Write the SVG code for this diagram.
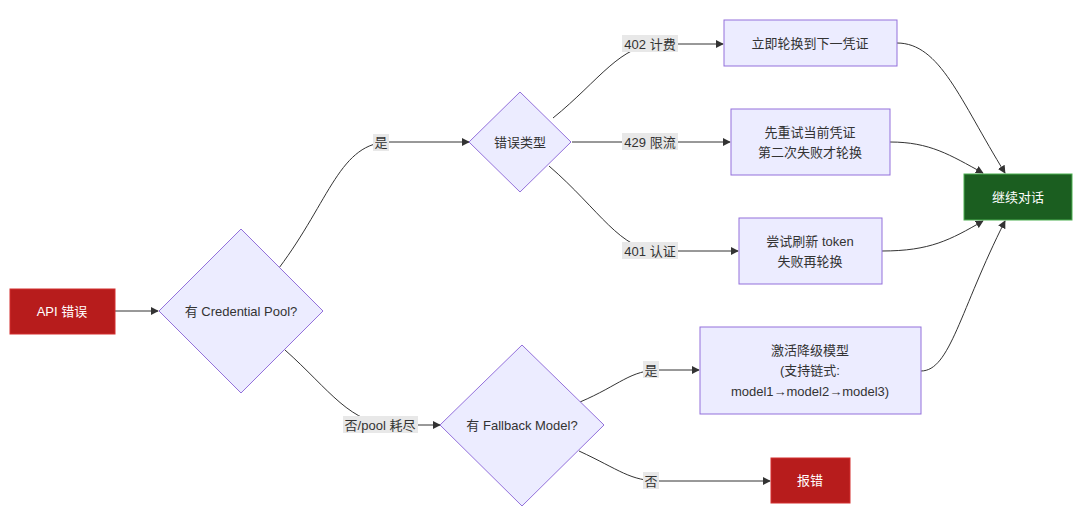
<svg xmlns="http://www.w3.org/2000/svg" width="1080" height="531" viewBox="0 0 1080 531">
<style>
text{font-family:"Liberation Sans","Noto Sans CJK SC",sans-serif;font-size:13px;fill:#333;text-anchor:middle;dominant-baseline:central}
.n{fill:#ececff;stroke:#9370db;stroke-width:1}
.e{fill:none;stroke:#333;stroke-width:1;marker-end:url(#a)}
.lb{fill:#e8e8e8}
.w{fill:#fff}
</style>
<defs><marker id="a" viewBox="0 0 10 10" refX="9" refY="5" markerWidth="8" markerHeight="8" orient="auto"><path d="M0,0L10,5L0,10z" fill="#333"/></marker></defs>
<rect width="1080" height="531" fill="#fff"/>
<g id="edges">
<path class="e" d="M115,311H158"/>
<path class="e" d="M279,268C330,200 340,142 390,142H469"/>
<path class="e" d="M285,350C330,390 350,425 395,425H440"/>
<path class="e" d="M553,118C600,80 620,44 660,44H723"/>
<path class="e" d="M572,142H730"/>
<path class="e" d="M549,166C600,210 620,251 660,251H738"/>
<path class="e" d="M580,402C620,385 630,370 660,370H699"/>
<path class="e" d="M579,451C620,470 630,481 660,481H770"/>
<path class="e" d="M897,43C940,43 960,100 1005,173"/>
<path class="e" d="M890,142C930,142 950,155 983,173"/>
<path class="e" d="M882,251C930,251 950,240 983,221"/>
<path class="e" d="M921,371C950,371 960,310 1005,221"/>
<rect class="lb" x="373" y="134" width="16" height="17"/><text x="381" y="142">是</text>
<rect class="lb" x="343" y="416" width="75" height="17"/><text x="380" y="425">否/pool 耗尽</text>
<rect class="lb" x="622" y="35" width="56" height="17"/><text x="650" y="44">402 计费</text>
<rect class="lb" x="622" y="133" width="56" height="17"/><text x="650" y="142">429 限流</text>
<rect class="lb" x="622" y="242" width="56" height="17"/><text x="650" y="251">401 认证</text>
<rect class="lb" x="643" y="361" width="16" height="17"/><text x="651" y="370">是</text>
<rect class="lb" x="643" y="472" width="16" height="17"/><text x="651" y="481">否</text>
</g>
<g id="api"><rect x="10" y="289" width="105" height="45" fill="#b71c1c" stroke="#d32f2f"/><text class="w" x="62" y="311">API 错误</text></g>
<g id="pool"><path class="n" d="M241,229L323,311L241,393L159,311z"/><text x="241" y="311">有 Credential Pool?</text></g>
<g id="type"><path class="n" d="M520,92L571,142L520,192L469,142z"/><text x="520" y="142">错误类型</text></g>
<g id="fb"><path class="n" d="M522,345L604,425L522,506L440,425z"/><text x="522" y="425">有 Fallback Model?</text></g>
<g id="r1"><rect class="n" x="724" y="20" width="173" height="46"/><text x="810" y="43">立即轮换到下一凭证</text></g>
<g id="r2"><rect class="n" x="731" y="109" width="159" height="66"/><text x="810" y="132">先重试当前凭证</text><text x="810" y="152">第二次失败才轮换</text></g>
<g id="r3"><rect class="n" x="739" y="218" width="143" height="66"/><text x="810" y="241">尝试刷新 token</text><text x="810" y="261">失败再轮换</text></g>
<g id="r4"><rect class="n" x="700" y="327" width="221" height="87"/><text x="810" y="350">激活降级模型</text><text x="810" y="370">(支持链式:</text><text x="810" y="391">model1→model2→model3)</text></g>
<g id="ok"><rect x="964" y="174" width="108" height="46" fill="#1b5e20" stroke="#4caf50"/><text class="w" x="1018" y="197">继续对话</text></g>
<g id="err"><rect x="771" y="458" width="79" height="45" fill="#b71c1c" stroke="#d32f2f"/><text class="w" x="810" y="480">报错</text></g>
</svg>
